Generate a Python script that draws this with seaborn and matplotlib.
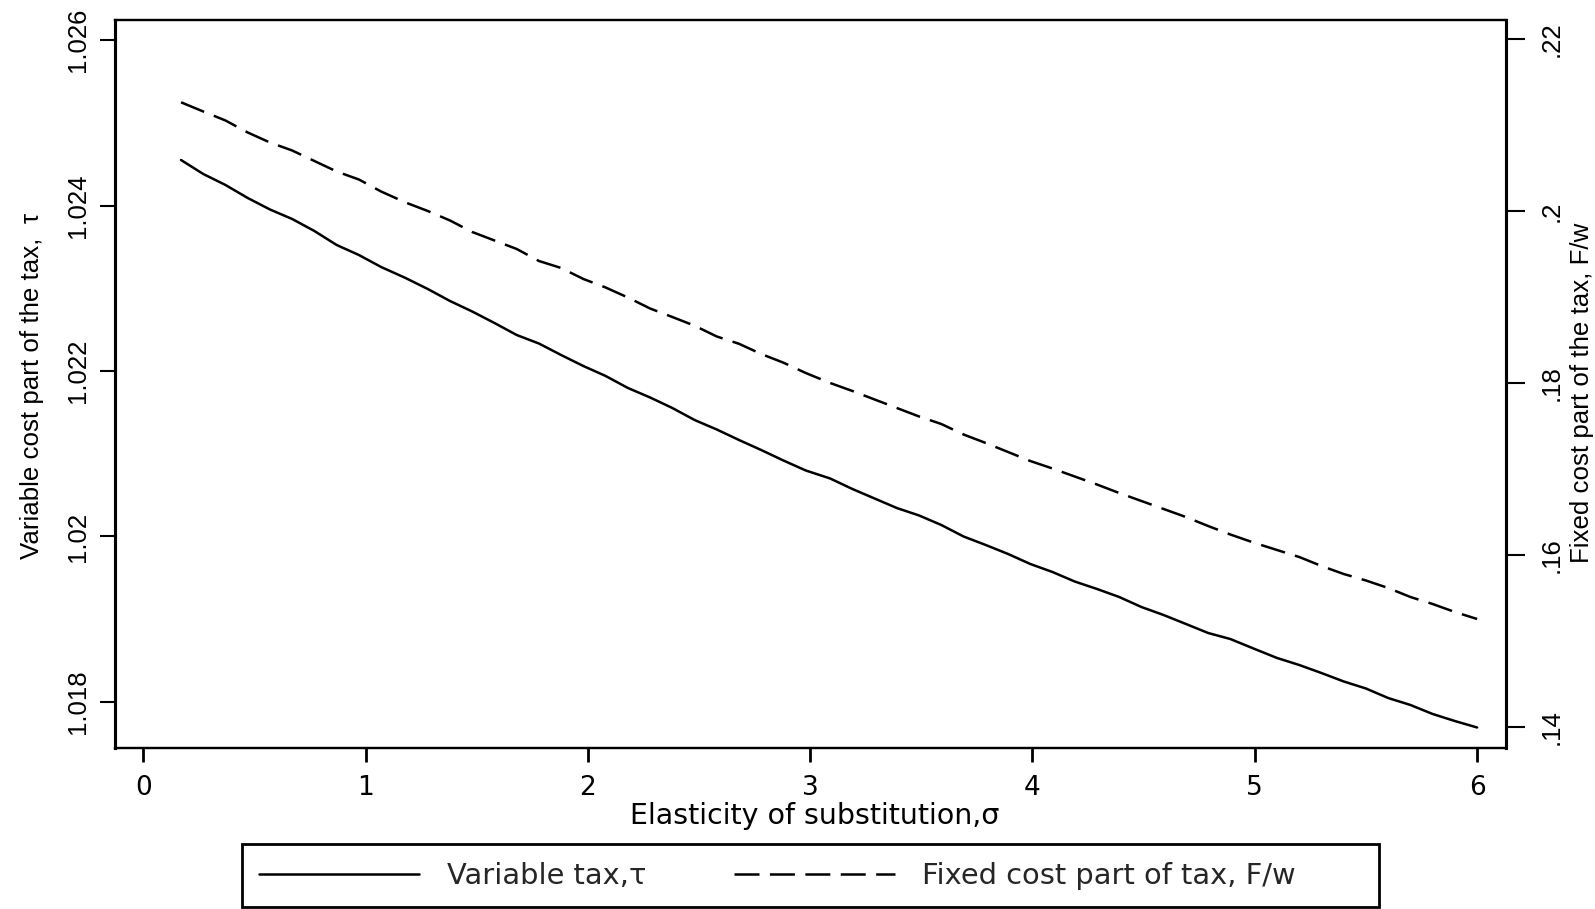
import matplotlib
matplotlib.use("Agg")
import matplotlib.pyplot as plt
from matplotlib import font_manager as fm
from matplotlib.patches import Rectangle
import seaborn as sns

# Elasticity of substitution grid
sigma = [0.17, 0.27, 0.37, 0.47, 0.57, 0.67, 0.77, 0.87, 0.97, 1.07,
         1.18, 1.28, 1.38, 1.48, 1.58, 1.68, 1.78, 1.88, 1.98, 2.08,
         2.18, 2.28, 2.38, 2.48, 2.58, 2.68, 2.78, 2.88, 2.98, 3.09,
         3.19, 3.29, 3.39, 3.49, 3.59, 3.69, 3.79, 3.89, 3.99, 4.09,
         4.19, 4.29, 4.39, 4.49, 4.59, 4.69, 4.79, 4.89, 5.00, 5.10,
         5.20, 5.30, 5.40, 5.50, 5.60, 5.70, 5.80, 5.90, 6.00]

# Variable tax, tau (left axis)
tau = [1.024550, 1.024381, 1.024248, 1.024091, 1.023952, 1.023837, 1.023692, 1.023523,
       1.023402, 1.023257, 1.023124, 1.022991, 1.022846, 1.022719, 1.022580, 1.022435,
       1.022332, 1.022193, 1.022060, 1.021940, 1.021795, 1.021680, 1.021553, 1.021408,
       1.021293, 1.021166, 1.021045, 1.020918, 1.020798, 1.020701, 1.020574, 1.020459,
       1.020344, 1.020254, 1.020139, 1.020000, 1.019897, 1.019789, 1.019668, 1.019571,
       1.019456, 1.019366, 1.019269, 1.019148, 1.019051, 1.018943, 1.018834, 1.018761,
       1.018640, 1.018532, 1.018447, 1.018350, 1.018248, 1.018163, 1.018048, 1.017964,
       1.017855, 1.017770, 1.017692]

# Fixed cost part of the tax, F/w (right axis)
fixed_cost = [0.212674, 0.211605, 0.210558, 0.209163, 0.208000, 0.207070, 0.205849, 0.204628,
              0.203698, 0.202302, 0.201023, 0.200035, 0.198930, 0.197593, 0.196605, 0.195616,
              0.194221, 0.193407, 0.192128, 0.191140, 0.189977, 0.188698, 0.187709, 0.186698,
              0.185442, 0.184593, 0.183407, 0.182395, 0.181198, 0.180035, 0.179105, 0.178116,
              0.177128, 0.176140, 0.175267, 0.174047, 0.173058, 0.172012, 0.170965, 0.170093,
              0.169163, 0.168233, 0.167244, 0.166314, 0.165384, 0.164453, 0.163407, 0.162419,
              0.161430, 0.160616, 0.159802, 0.158756, 0.157826, 0.157070, 0.156198, 0.155151,
              0.154337, 0.153407, 0.152593]

x_ticks = [0, 1, 2, 3, 4, 5, 6]
x_tick_labels = ["0", "1", "2", "3", "4", "5", "6"]
left_ticks = [1.018, 1.020, 1.022, 1.024, 1.026]
left_tick_labels = ["1.018", "1.02", "1.022", "1.024", "1.026"]
right_ticks = [0.14, 0.16, 0.18, 0.20, 0.22]
right_tick_labels = [".14", ".16", ".18", ".2", ".22"]

x_label = "Elasticity of substitution,\u03c3"
left_label = "Variable cost part of the tax,  \u03c4"
right_label = "Fixed cost part of the tax, F/w"
legend_labels = ["Variable tax,\u03c4", "Fixed cost part of tax, F/w"]

sns.set_style("ticks")
plt.rcParams["font.family"] = ["DejaVu Sans"]
plt.rcParams["lines.scale_dashes"] = False

available = {f.name for f in fm.fontManager.ttflist}
narrow_sizes = {"Liberation Sans Narrow": 21.5, "DejaVu Sans Condensed": 18.0,
                "Liberation Sans": 18.5, "DejaVu Sans": 16.5}
narrow = next(f for f in narrow_sizes if f in available or f == "DejaVu Sans")
narrow_size = narrow_sizes[narrow]
title_font = "Liberation Sans" if "Liberation Sans" in available else "DejaVu Sans"
title_size = 18.6 if title_font == "Liberation Sans" else 16.8

W, H = 1595, 909
fig = plt.figure(figsize=(W / 100, H / 100), dpi=100)
ax = fig.add_axes([115 / W, 1 - 747.5 / H, (1506 - 115) / W, (747.5 - 19.5) / H])
ax2 = ax.twinx()

dash = (0, (18, 7.5))
sns.lineplot(x=sigma, y=tau, ax=ax, color="black", linewidth=1.8, legend=False)
sns.lineplot(x=sigma, y=fixed_cost, ax=ax2, color="black", linewidth=1.8,
             linestyle=dash, legend=False)

ax.set_xlim(-0.127, 6.130)
ax.set_ylim(1.017450, 1.026248)
ax2.set_ylim(0.137651, 0.222302)

for a in (ax, ax2):
    for side, sp in a.spines.items():
        sp.set_visible(True)
        sp.set_color("black")
        sp.set_linewidth(2.2 if side in ("left", "right") else 1.6)

ax.set_xticks(x_ticks, labels=x_tick_labels)
ax.tick_params(axis="x", direction="out", length=10, width=2.0, pad=9.5,
               labelsize=19, colors="black")

ax.set_yticks(left_ticks, labels=left_tick_labels, rotation=90, va="center",
              fontfamily=narrow, fontsize=narrow_size)
ax.tick_params(axis="y", direction="out", length=10.8, width=1.5, pad=7.0, colors="black")

ax2.set_yticks(right_ticks, labels=right_tick_labels, rotation=90, va="center",
               fontfamily=narrow, fontsize=narrow_size)
ax2.tick_params(axis="y", direction="out", length=14, width=1.5, pad=10.5, colors="black")

ax.set_xlabel(x_label, fontsize=20.5, color="black")
ax.xaxis.set_label_coords(0.503, -0.0745)

ax.set_ylabel(left_label, fontfamily=title_font, fontsize=title_size, color="black")
ax.yaxis.set_label_coords(-0.0510, 0.497)
ax2.set_ylabel(right_label, fontfamily=title_font, fontsize=title_size, color="black")
ax2.yaxis.set_label_coords(1.046, 0.487)

# Legend below the plot, inside a square black frame
handles = [ax.lines[0], ax2.lines[0]]
fig.legend(handles, legend_labels, loc="center left",
           bbox_to_anchor=(259 / W, 1 - 876 / H), ncol=2, frameon=False,
           fontsize=20.8, handlelength=5.55, handletextpad=0.95,
           columnspacing=3.05, borderpad=0, borderaxespad=0)
fig.patches.append(Rectangle((242 / W, 1 - 906.5 / H), (1379 - 242) / W,
                             (906.5 - 843.5) / H, transform=fig.transFigure,
                             fill=False, edgecolor="black", linewidth=2.0))

fig.savefig("out.png", dpi=100, facecolor="white")
